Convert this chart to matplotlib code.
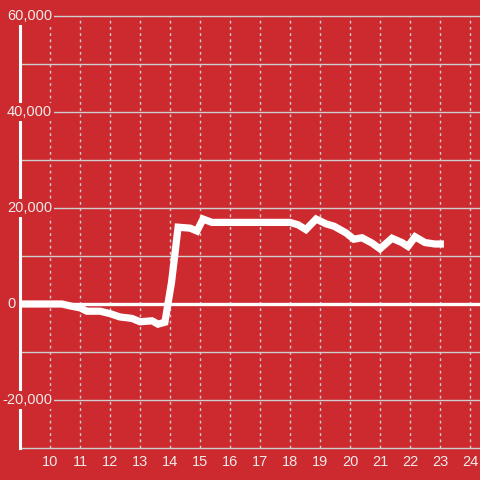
import numpy as np
import matplotlib.pyplot as plt
from matplotlib.transforms import blended_transform_factory

# hours of the day vs value
hours = [9.0, 10.4, 10.67, 11.0, 11.23, 11.67, 12.0, 12.33, 12.73, 13.0, 13.4, 13.6, 13.83,
         14.05, 14.27, 14.67, 14.9, 15.1, 15.4, 18.0, 18.27, 18.53, 18.87, 19.2, 19.47,
         19.87, 20.13, 20.4, 20.73, 21.0, 21.4, 21.73, 21.93, 22.17, 22.5, 22.83, 23.13]
values = [0, 0, -400, -800, -1500, -1500, -2000, -2700, -3000, -3700, -3500, -4200, -3800,
          4500, 16000, 15800, 15200, 17700, 17000, 17000, 16500, 15500, 17700, 16700, 16200,
          14800, 13500, 13800, 12700, 11500, 13700, 12800, 12000, 14000, 12800, 12500, 12500]

x_ticks = list(range(10, 25))
y_grid = list(range(-30000, 60001, 10000))
y_labels = [-20000, 0, 20000, 40000, 60000]

bg = '#cc2a2f'
fg = '#f0eaea'
grid_c = '#cfcfcf'

plt.rcParams['font.family'] = ['Liberation Sans', 'DejaVu Sans']
fig = plt.figure(figsize=(4.8, 4.8), dpi=100, facecolor=bg)
ax = fig.add_axes([20/480, 32/480, 460/480, 432/480])
ax.set_facecolor(bg)
ax.set_xlim(9, 9 + 460/30)
ax.set_ylim(-30000, 60000)

for s in ['top', 'right', 'bottom']:
    ax.spines[s].set_visible(False)
ax.spines['left'].set_color('white')
ax.spines['left'].set_linewidth(2.2)
ax.spines['left'].set_zorder(3)
ax.tick_params(left=False, bottom=False, labelleft=False, labelbottom=False)

for y in y_grid:
    if y == 0:
        ax.axhline(y, color='white', lw=2.4, zorder=2)
    else:
        ax.axhline(y, color=grid_c, lw=1.0, zorder=1, clip_on=False)
for x in x_ticks:
    ax.axvline(x, color=grid_c, lw=1.0, ls=(0, (2, 2.5)), zorder=1)

ax.plot(hours, values, color='white', lw=5.2, solid_joinstyle='miter',
        solid_capstyle='butt', zorder=4)

tr = blended_transform_factory(fig.transFigure, ax.transData)
for v in y_labels:
    xpos = 16/480 if v == 0 else 52/480
    ax.text(xpos, v, f'{v:,}', transform=tr, ha='right', va='center', color=fg,
            fontsize=10.5, zorder=5,
            bbox=dict(facecolor=bg, edgecolor='none', boxstyle='square,pad=0.12'))

trx = blended_transform_factory(ax.transData, fig.transFigure)
for x in x_ticks:
    ax.text(x, 1 - 462/480, str(x), transform=trx, ha='center', va='center',
            color=fg, fontsize=10.5)

fig.savefig('out.png', dpi=100, facecolor=bg)
